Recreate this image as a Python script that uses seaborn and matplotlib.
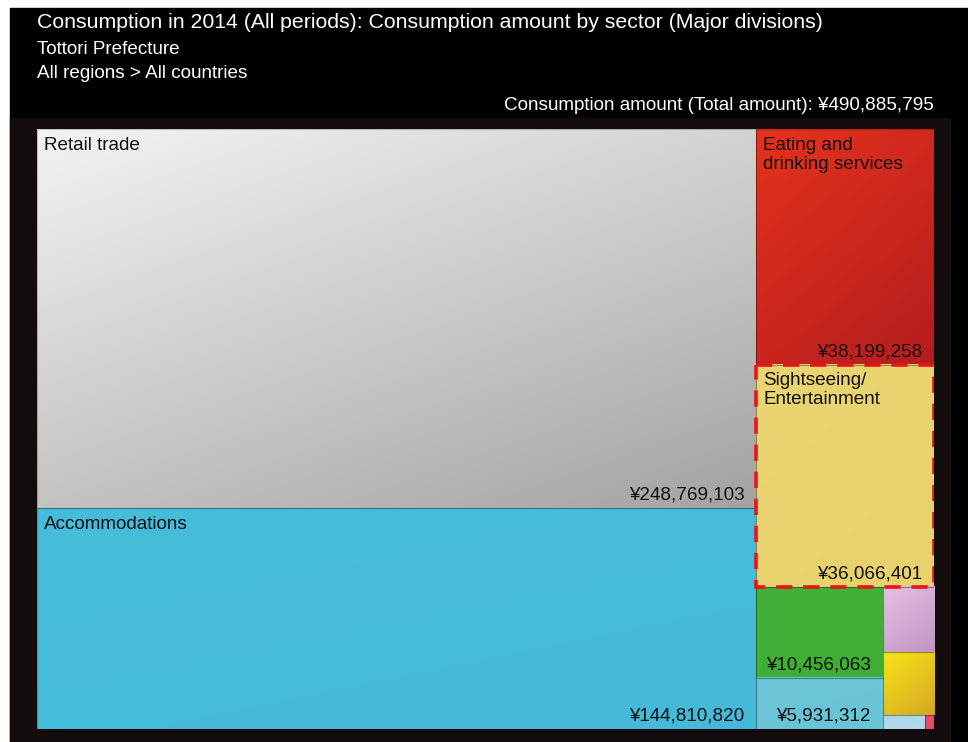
import numpy as np
import matplotlib
matplotlib.use("Agg")
import matplotlib.pyplot as plt
import seaborn as sns
from matplotlib.patches import Rectangle
from matplotlib.colors import to_rgb

# ---- data -------------------------------------------------------------
sectors = [
    "Retail trade",
    "Accommodations",
    "Eating and\ndrinking services",
    "Sightseeing/\nEntertainment",
    "Transportation",
    "Travel agency services",
    "Living-related services",
    "Other services",
    "Rental services",
    "Other",
]
amounts = [248769103, 144810820, 38199258, 36066401, 10456063,
           5931312, 3050000, 2950000, 540000, 112838]
show_name = [True, True, True, True, False, False, False, False, False, False]
show_amount = [True, True, True, True, True, True, False, False, False, False]
highlighted = "Sightseeing/\nEntertainment"

title = "Consumption in 2014 (All periods): Consumption amount by sector (Major divisions)"
subtitle_1 = "Tottori Prefecture"
subtitle_2 = "All regions > All countries"
total_label = "Consumption amount (Total amount)"

# nesting of the tiles: levels alternate between side-by-side and stacked
layout_tree = [[0, 1], [2, 3, [[4, 5], [6, 7, [8, 9]]]]]

# fill colours (start, end) for each tile; near-equal pairs are flat fills
fills = [
    ("#f3f3f1", "#a4a39f"),
    ("#46bddb", "#44bad8"),
    ("#e4321c", "#b51d1f"),
    ("#ebd572", "#e8d26e"),
    ("#42b137", "#3fae35"),
    ("#6cc6d8", "#69c4d6"),
    ("#e8c0e4", "#bf95c2"),
    ("#f7e41a", "#d5a822"),
    ("#a9d9ee", "#b4d8ea"),
    ("#ee4a6a", "#e0506e"),
]

# ---- style ------------------------------------------------------------
sns.set_theme(style="white")
plt.rcParams["font.family"] = ["Liberation Sans", "DejaVu Sans"]

W_PX, H_PX = 968, 742
fig = plt.figure(figsize=(W_PX / 100, H_PX / 100), dpi=100, facecolor="white")

# dark page background and slightly lighter panel behind the tiles
bg = fig.add_axes([0, 0, 1, 1])
bg.set_xlim(0, W_PX)
bg.set_ylim(H_PX, 0)
bg.axis("off")
bg.add_patch(Rectangle((10, 8), W_PX - 10, H_PX - 8, color="#000000", zorder=0))
bg.add_patch(Rectangle((10, 118), 940, H_PX - 118, color="#120c0c", zorder=1))

# header texts
TXT = 13.6
bg.text(37, 23, title, color="white", fontsize=15.3, va="center", ha="left")
bg.text(37, 49, subtitle_1, color="white", fontsize=TXT, va="center", ha="left")
bg.text(37, 73, subtitle_2, color="white", fontsize=TXT, va="center", ha="left")
total = sum(amounts)
bg.text(934, 105, f"{total_label}: ¥{total:,}", color="white", fontsize=TXT,
        va="center", ha="right")

# treemap axes
left, top, width, height = 37, 129, 897, 600
ax = fig.add_axes([left / W_PX, 1 - (top + height) / H_PX, width / W_PX, height / H_PX])
ax.axis("off")
W, H = width / height, 1.0


def node_total(node):
    if isinstance(node, int):
        return amounts[node]
    return sum(node_total(c) for c in node)


def place(node, x, y, w, h, side_by_side, out):
    if isinstance(node, int):
        out[node] = (x, y, w, h)
        return
    tot = node_total(node)
    pos = 0.0
    for child in node:
        frac = node_total(child) / tot
        if side_by_side:
            place(child, x + pos * w, y, frac * w, h, not side_by_side, out)
        else:
            place(child, x, y + pos * h, w, frac * h, not side_by_side, out)
        pos += frac


rects = {}
place(layout_tree, 0.0, 0.0, W, H, True, rects)


def gradient_tile(x, y, w, h, c1, c2):
    n = 64
    xx, yy = np.meshgrid(np.linspace(0, 1, n), np.linspace(0, 1, n))
    t = 0.4 * xx + 0.6 * yy
    a, b = np.array(to_rgb(c1)), np.array(to_rgb(c2))
    img = (1 - t)[..., None] * a + t[..., None] * b
    ax.imshow(img, extent=(x, x + w, y + h, y), origin="upper", aspect="auto",
              interpolation="bilinear", zorder=1)


for i, name in enumerate(sectors):
    x, y, w, h = rects[i]
    gradient_tile(x, y, w, h, *fills[i])
    ax.add_patch(Rectangle((x, y), w, h, fill=False, edgecolor=(0, 0, 0, 0.2),
                           lw=0.8, zorder=2))
    if show_name[i]:
        ax.annotate(name, xy=(x, y), xytext=(5, -5.5), textcoords="offset points",
                    ha="left", va="top", fontsize=TXT, color="#111111",
                    linespacing=1.15, zorder=4)
    if show_amount[i]:
        ax.annotate(f"¥{amounts[i]:,}", xy=(x + w, y + h), xytext=(-8.5, 6),
                    textcoords="offset points", ha="right", va="baseline",
                    fontsize=TXT, color="#111111", zorder=4)
    if name == highlighted:
        ax.add_patch(Rectangle((x, y), w, h, fill=False, edgecolor="#e8141c",
                               lw=2.6, linestyle=(0, (4.5, 3)), zorder=3))

ax.set_xlim(0, W)
ax.set_ylim(H, 0)

fig.savefig("out.png", dpi=100, facecolor=fig.get_facecolor())
